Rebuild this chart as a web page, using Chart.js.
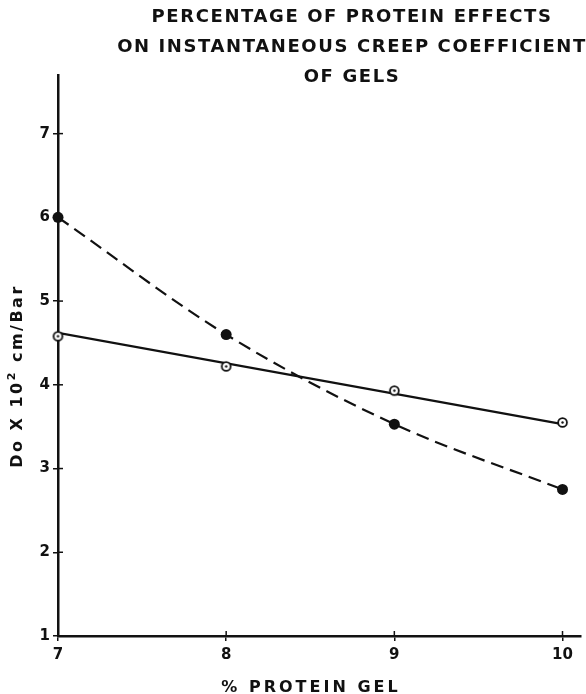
<!DOCTYPE html>
<html>
<head>
<meta charset="utf-8">
<script src="https://cdn.jsdelivr.net/npm/chart.js@4"></script>
<style>
  html, body { margin: 0; padding: 0; background: #fff; }
  #creepChart { display: block; }
</style>
</head>
<body>
<canvas id="creepChart" width="586" height="694"></canvas>
<script>
// Protein content (%) of the gels
const proteinPct = [7, 8, 9, 10];
// Do x 10^2 (cm/Bar), filled markers, dashed curve
const filledValues = [6.0, 4.6, 3.53, 2.75];
// Do x 10^2 (cm/Bar), open markers
const openValues = [4.58, 4.22, 3.93, 3.55];
// End points of the straight solid line through the open markers
const openLineX = [7, 10];
const openLineY = [4.62, 3.53];

const titleLines = [
    'PERCENTAGE OF PROTEIN EFFECTS',
    'ON INSTANTANEOUS CREEP COEFFICIENT',
    'OF GELS'
];
const xTitle = '% PROTEIN GEL';
const yTitleParts = ['Do X 10', '2', ' cm/Bar'];

const ink = '#111';
const letterFont = "'DejaVu Sans', sans-serif";

// open circle with a dot in the middle
function openMarker() {
    const c = document.createElement('canvas');
    c.width = 13; c.height = 13;
    const g = c.getContext('2d');
    g.fillStyle = '#fff';
    g.strokeStyle = ink;
    g.lineWidth = 1.8;
    g.beginPath();
    g.arc(6.5, 6.5, 4.4, 0, Math.PI * 2);
    g.fill();
    g.stroke();
    g.fillStyle = ink;
    g.beginPath();
    g.arc(6.5, 6.5, 1.2, 0, Math.PI * 2);
    g.fill();
    return c;
}

const toPoints = (xs, ys) => xs.map((x, i) => ({ x: x, y: ys[i] }));

// titles, axis captions and the inward half of each axis tick
const lettering = {
    id: 'lettering',
    afterDraw(chart) {
        const ctx = chart.ctx;
        const { x, y } = chart.scales;
        ctx.save();
        ctx.strokeStyle = ink;
        ctx.lineWidth = 1.5;
        x.ticks.forEach(t => {
            const px = x.getPixelForValue(t.value);
            ctx.beginPath();
            ctx.moveTo(px, y.bottom);
            ctx.lineTo(px, y.bottom - 5);
            ctx.stroke();
        });
        y.ticks.forEach(t => {
            const py = y.getPixelForValue(t.value);
            ctx.beginPath();
            ctx.moveTo(x.left, py);
            ctx.lineTo(x.left + 5, py);
            ctx.stroke();
        });

        ctx.fillStyle = ink;
        ctx.textBaseline = 'middle';
        ctx.textAlign = 'center';

        // chart title
        ctx.font = 'bold 18px ' + letterFont;
        ctx.letterSpacing = '1.6px';
        titleLines.forEach((line, i) => {
            ctx.fillText(line, 352, 17 + i * 30);
        });

        // x caption
        ctx.font = 'bold 16px ' + letterFont;
        ctx.letterSpacing = '3px';
        ctx.fillText(xTitle, 311, 688);

        // y caption, rotated, with a raised exponent
        ctx.save();
        ctx.translate(18, 376);
        ctx.rotate(-Math.PI / 2);
        ctx.textAlign = 'left';
        ctx.letterSpacing = '2.5px';
        const big = 'bold 16px ' + letterFont;
        const small = 'bold 11px ' + letterFont;
        ctx.font = big;
        const w0 = ctx.measureText(yTitleParts[0]).width;
        const w2 = ctx.measureText(yTitleParts[2]).width;
        ctx.font = small;
        const w1 = ctx.measureText(yTitleParts[1]).width;
        let cx = -(w0 + w1 + w2) / 2;
        ctx.font = big;
        ctx.fillText(yTitleParts[0], cx, 0);
        cx += w0;
        ctx.font = small;
        ctx.fillText(yTitleParts[1], cx, -6);
        cx += w1;
        ctx.font = big;
        ctx.fillText(yTitleParts[2], cx, 0);
        ctx.restore();

        ctx.restore();
    }
};

const ctx = document.getElementById('creepChart').getContext('2d');

new Chart(ctx, {
    type: 'scatter',
    data: {
        datasets: [
            {
                label: 'filled',
                data: toPoints(proteinPct, filledValues),
                showLine: true,
                borderColor: ink,
                borderWidth: 2.2,
                borderDash: [13, 7],
                cubicInterpolationMode: 'monotone',
                pointStyle: 'circle',
                pointRadius: 5.5,
                pointBackgroundColor: ink,
                pointBorderColor: ink,
                pointBorderWidth: 0,
                clip: false
            },
            {
                label: 'open',
                data: toPoints(proteinPct, openValues),
                showLine: false,
                pointStyle: openMarker(),
                clip: false
            },
            {
                label: 'open fit',
                data: toPoints(openLineX, openLineY),
                showLine: true,
                borderColor: ink,
                borderWidth: 2.2,
                pointRadius: 0
            }
        ]
    },
    options: {
        responsive: false,
        animation: false,
        layout: { padding: { top: 75, right: 0, left: 0, bottom: 0 } },
        plugins: {
            legend: { display: false },
            tooltip: { enabled: false }
        },
        scales: {
            x: {
                type: 'linear',
                min: 7,
                max: 10.107,
                afterFit: (s) => { s.height = 58; },
                border: { color: ink, width: 2.5 },
                grid: { drawOnChartArea: false, color: ink, lineWidth: 1.5, tickLength: 5 },
                ticks: {
                    stepSize: 1,
                    includeBounds: false,
                    color: ink,
                    padding: 5,
                    font: { family: letterFont, size: 15, weight: 'bold' }
                }
            },
            y: {
                type: 'linear',
                min: 1,
                max: 7.7,
                afterFit: (s) => { s.width = 58; },
                border: { color: ink, width: 2.5 },
                grid: { drawOnChartArea: false, color: ink, lineWidth: 1.5, tickLength: 5 },
                ticks: {
                    stepSize: 1,
                    includeBounds: false,
                    color: ink,
                    padding: 3,
                    font: { family: letterFont, size: 15, weight: 'bold' }
                }
            }
        }
    },
    plugins: [lettering]
});
</script>
</body>
</html>
